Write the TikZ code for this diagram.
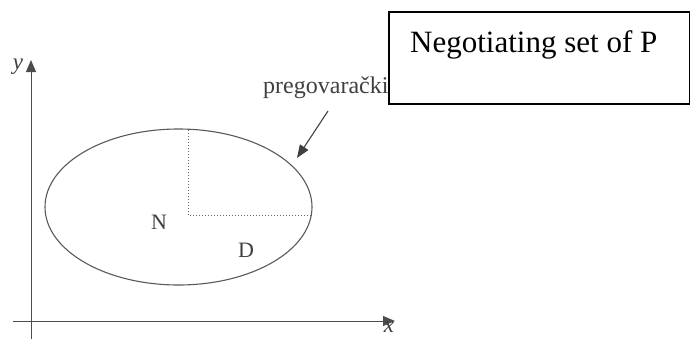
\documentclass[tikz,border=0pt]{standalone}
\usepackage{fontspec}
\setmainfont{Liberation Serif}
\usetikzlibrary{arrows.meta}
\begin{document}
\begin{tikzpicture}[x=1pt,y=-1pt,
  axis/.style={draw=black!70,line width=1pt,-{Triangle[length=12pt,width=10pt]}},
  curve/.style={draw=black!65,line width=1.1pt},
  dots/.style={draw=black!60,line width=1pt,dotted},
  lbl/.style={text=black!75,inner sep=0pt,font=\fontsize{22}{22}\selectfont},
  ptr/.style={draw=black!75,line width=1.1pt,-{Triangle[length=13pt,width=10pt]}}]
\useasboundingbox (0,0) rectangle (690,338);
\clip (0,0) rectangle (690,338);
% axes
\coordinate (yb) at (31,345);
\coordinate (yt) at (31,60);
\coordinate (xl) at (13,321);
\coordinate (xr) at (395,321);
\draw[axis] (yb) -- (yt);
\draw[axis] (xl) -- (xr);
\node[lbl,font=\itshape\fontsize{23}{23}\selectfont] (ylab) at (18,67) {y};
\node[lbl,font=\itshape\fontsize{23}{23}\selectfont] (xlab) at (389,327) {x};
% ellipse
\coordinate (c) at (178.5,207);
\draw[curve] (c) ellipse [x radius=133.5, y radius=78];
\coordinate (vt) at (188,130);
\coordinate (vc) at (188,215);
\coordinate (hr) at (311,215);
\draw[dots] (vt) -- (vc) -- (hr);
\node[lbl] (N) at (159,222) {N};
\node[lbl] (D) at (246,250) {D};
% pointer
\node[lbl,anchor=base west,font=\fontsize{24}{24}\selectfont] (pg) at (263,93) {pregovarački};
\coordinate (ps) at (328,111);
\coordinate (pe) at (297,158);
\draw[ptr] (ps) -- (pe);
% box
\node[draw=black,line width=2pt,fill=white,minimum width=301pt,minimum height=92pt,
  anchor=north west,inner sep=0pt] (box) at (388,11) {};
\node[anchor=base west,inner sep=0pt,font=\fontsize{31}{31}\selectfont] (title) at (410,52) {Negotiating set of P};
\end{tikzpicture}
\end{document}
